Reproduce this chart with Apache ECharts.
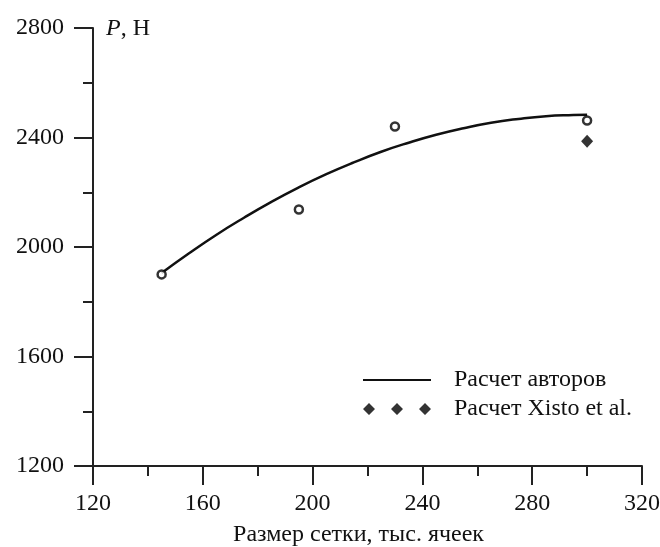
<!DOCTYPE html>
<html>
<head>
<meta charset="utf-8">
<script src="https://cdn.jsdelivr.net/npm/echarts@6/dist/echarts.min.js"></script>
<style>
  html, body { margin: 0; padding: 0; background: #fff; }
  #chart { width: 660px; height: 547px; }
</style>
</head>
<body>
<div id="chart"></div>
<script>
// mesh size (thousand cells) and force P, N
const meshSizes = [145, 195, 230, 300];
const authorsPoints = [1900, 2137, 2440, 2462];

// fitted curve
const curveX = [145, 155, 165, 175, 185, 195, 205, 215, 225, 235, 245, 255, 265, 275, 285, 295, 300];
const curveY = [1905, 1977, 2045, 2107, 2165, 2218, 2266, 2309, 2348, 2381, 2410, 2434, 2454, 2468, 2478, 2482, 2483];

const xistoX = [300];
const xistoY = [2386];

const xTicks = { min: 120, max: 320, interval: 40 };
const yTicks = { min: 1200, max: 2800, interval: 400 };

const font = 'Liberation Serif';
const ink = '#111';
const fs = 24;

const chart = echarts.init(document.getElementById('chart'));

const axisCommon = {
  axisLine: { show: true, onZero: false, lineStyle: { color: '#222', width: 2 } },
  axisTick: { show: true, inside: false, length: 19, lineStyle: { color: '#222', width: 2 } },
  minorTick: { show: true, splitNumber: 2, length: 10, lineStyle: { color: '#222', width: 2 } },
  splitLine: { show: false },
  minorSplitLine: { show: false },
};

chart.setOption({
  animation: false,
  backgroundColor: '#fff',
  title: {
    text: '{i|P}, Н',
    left: 101,
    top: 12,
    textStyle: {
      fontFamily: font,
      fontSize: fs,
      fontWeight: 'normal',
      color: ink,
      rich: {
        i: { fontFamily: font, fontSize: fs, fontStyle: 'italic', color: ink },
      },
    },
  },
  grid: { left: 93, right: 18, top: 28, bottom: 81, containLabel: false, outerBoundsMode: 'none' },
  legend: {
    orient: 'vertical',
    left: 357,
    top: 363,
    itemGap: 5,
    itemWidth: 68,
    itemHeight: 12,
    selectedMode: false,
    textStyle: { fontFamily: font, fontSize: fs, color: ink, lineHeight: 24, padding: [0, 0, 0, 18] },
    data: [
      {
        name: 'Расчет авторов',
        itemStyle: { color: 'rgba(0,0,0,0)', borderWidth: 0 },
      },
      {
        name: 'Расчет Xisto et al.',
        icon: 'path://M0 6L6 0L12 6L6 12ZM28 6L34 0L40 6L34 12ZM56 6L62 0L68 6L62 12Z',
        itemStyle: { color: '#000' },
      },
    ],
  },
  xAxis: Object.assign({}, axisCommon, {
    type: 'value',
    min: xTicks.min,
    max: xTicks.max,
    interval: xTicks.interval,
    name: 'Размер сетки, тыс. ячеек',
    nameLocation: 'middle',
    nameGap: 57,
    nameTextStyle: { fontFamily: font, fontSize: fs, color: ink, padding: [0, 18, 0, 0] },
    axisLabel: { margin: 26, fontFamily: font, fontSize: fs, color: ink, formatter: v => String(v) },
  }),
  yAxis: Object.assign({}, axisCommon, {
    type: 'value',
    min: yTicks.min,
    max: yTicks.max,
    interval: yTicks.interval,
    axisLabel: { margin: 29, fontFamily: font, fontSize: fs, color: ink, formatter: v => String(v) },
  }),
  series: [
    {
      name: 'Расчет авторов',
      type: 'line',
      smooth: true,
      symbol: 'none',
      data: curveX.map((x, i) => [x, curveY[i]]),
      lineStyle: { color: '#111', width: 2.5 },
      itemStyle: { color: '#111' },
      z: 2,
    },
    {
      name: 'points',
      type: 'scatter',
      symbol: 'circle',
      symbolSize: 8,
      data: meshSizes.map((x, i) => [x, authorsPoints[i]]),
      itemStyle: { color: '#fff', borderColor: '#000', borderWidth: 2.5 },
      z: 3,
    },
    {
      name: 'Расчет Xisto et al.',
      type: 'scatter',
      symbol: 'diamond',
      symbolSize: [12, 13],
      data: xistoX.map((x, i) => [x, xistoY[i]]),
      itemStyle: { color: '#000' },
      z: 3,
    },
  ],
});
</script>
</body>
</html>
